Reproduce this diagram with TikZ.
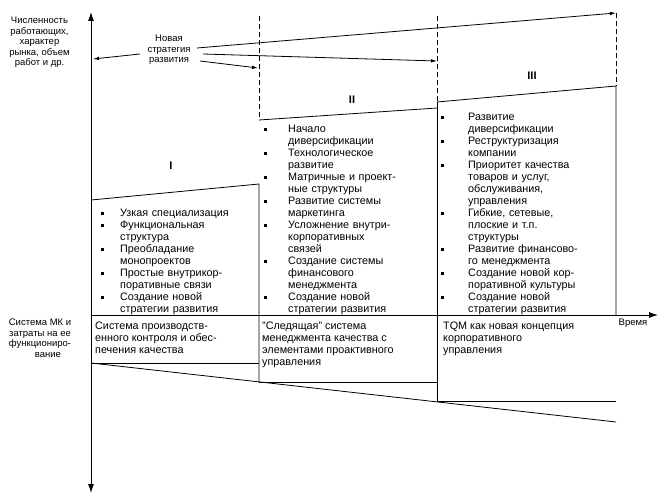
\documentclass[tikz,border=0pt]{standalone}
\usepackage{fontspec}
\setmainfont{Liberation Sans}
\usetikzlibrary{arrows.meta}

\newlength{\bulx}
\newlength{\bulw}
\newcommand{\bul}{\makebox[\bulw][l]{\strut\hspace*{\bulx}\rule[1.5pt]{2.8pt}{2.8pt}}}
\newcommand{\itm}[1]{\par\noindent\hangindent=\bulw\hangafter=1\bul#1}

\tikzset{
 ax/.style={line width=0.9pt,-{Latex[length=9pt,width=6pt]}},
 arr/.style={line width=0.8pt,-{Latex[length=6pt,width=3.5pt]}},
 bx/.style={line width=0.8pt},
 dsh/.style={line width=0.8pt,dash pattern=on 5pt off 3pt},
 lst/.style={anchor=north west,inner sep=0pt,text width=#1,font=\fontsize{10.8}{12}\selectfont},
 txt/.style={anchor=north west,inner sep=0pt,align=left,font=\fontsize{10.8}{12}\selectfont},
 lab/.style={align=center,inner sep=0pt,font=\fontsize{9.5}{10.5}\selectfont},
 rom/.style={inner sep=0pt,font=\fontsize{11}{12}\selectfont\bfseries}
}

\begin{document}
\begin{tikzpicture}[x=1pt,y=-1pt]
 \useasboundingbox (0,0) rectangle (664,500);
 % axes
 \coordinate (o) at (91,315);
 \coordinate (ytop) at (91,12);
 \coordinate (ybot) at (91,493);
 \coordinate (tend) at (658,315);
 \draw[ax] (o) -- (ytop);
 \draw[ax] (o) -- (ybot);
 \draw[ax] (o) -- (tend);
 \node[lab] (ylab) at (39.5,42.5) {Численность\\работающих,\\характер\\рынка, объем\\работ и др.};
 \node[lab] (mklab) at (40,338) {Система МК и\\затраты на ее\\функциониро-\\\hspace*{16pt}вание};
 \node[lab] (tlab) at (633,323) {Время};

 % stages
 \draw[dsh] (259,16) -- (259,120);
 \draw[dsh] (437,16) -- (437,102);
 \draw[dsh] (616,13) -- (616,86);
 \draw[bx] (91,200) -- (259,184) -- (259,382);
 \draw[bx] (259,120) -- (437,108);
 \draw[bx] (437,102) -- (616,86) -- (616,315);
 \draw[bx] (437,102) -- (437,401);
 \draw[bx] (91,363) -- (259,363);
 \draw[bx] (259,382) -- (437,382);
 \draw[bx] (437,401) -- (616,401);
 \draw[bx] (91,363) -- (616,422);
 \node[rom] (rI) at (171,166) {I};
 \node[rom] (rII) at (352,100) {II};
 \node[rom] (rIII) at (532,76) {III};

 % new strategy
 \node[lab] (newstrat) at (169,50) {Новая\\стратегия\\развития};
 \coordinate (s0) at (140,54);
 \coordinate (e0) at (93,59);
 \coordinate (s1) at (197,48);
 \coordinate (e1) at (616,13);
 \coordinate (s2) at (203,54);
 \coordinate (e2) at (437,61);
 \coordinate (s3) at (200,61);
 \coordinate (e3) at (258,68);
 \draw[arr] (s0) -- (e0);
 \draw[arr] (s1) -- (e1);
 \draw[arr] (s2) -- (e2);
 \draw[arr] (s3) -- (e3);

 % lists
 \node[lst=165pt] (lI) at (92,204.1) {\setlength{\bulx}{8.6pt}\setlength{\bulw}{28pt}%
  \itm{Узкая специализация}
  \itm{Функциональная\newline структура}
  \itm{Преобладание\newline монопроектов}
  \itm{Простые внутрикор-\newline поративные связи}
  \itm{Создание новой\newline стратегии развития}\par};
 \node[lst=176pt] (lII) at (259,120.1) {\setlength{\bulx}{4.6pt}\setlength{\bulw}{29pt}%
  \itm{Начало\newline диверсификации}
  \itm{Технологическое\newline развитие}
  \itm{Матричные и проект-\newline ные структуры}
  \itm{Развитие системы\newline маркетинга}
  \itm{Усложнение внутри-\newline корпоративных\newline связей}
  \itm{Создание системы\newline финансового\newline менеджмента}
  \itm{Создание новой\newline стратегии развития}\par};
 \node[lst=178pt] (lIII) at (437,108.1) {\setlength{\bulx}{3.5pt}\setlength{\bulw}{31pt}%
  \itm{Развитие\newline диверсификации}
  \itm{Реструктуризация\newline компании}
  \itm{Приоритет качества\newline товаров и услуг,\newline обслуживания,\newline управления}
  \itm{Гибкие, сетевые,\newline плоские и т.п.\newline структуры}
  \itm{Развитие финансово-\newline го менеджмента}
  \itm{Создание новой кор-\newline поративной культуры}
  \itm{Создание новой\newline стратегии развития}\par};

 % quality systems
 \node[txt] (mkI) at (95,320.6) {\strut Система производств-\\енного контроля и обес-\\печения качества};
 \node[txt] (mkII) at (262,320.6) {\strut "Следящая" система\\менеджмента качества с\\элементами проактивного\\управления};
 \node[txt] (mkIII) at (443,320.6) {\strut TQM как новая концепция\\корпоративного\\управления};
\end{tikzpicture}
\end{document}
